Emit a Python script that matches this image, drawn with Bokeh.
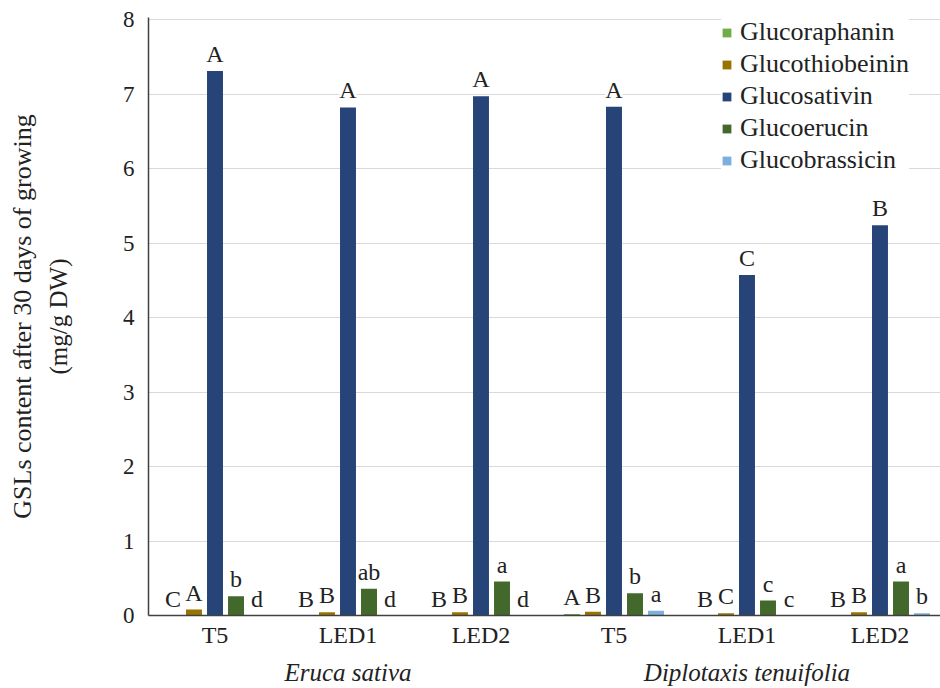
import numpy as np

from bokeh.plotting import figure
from bokeh.models import (Range1d, FixedTicker, ColumnDataSource, LabelSet,
                          Legend, LegendItem, LinearAxis)
from bokeh.embed import file_html
from bokeh.resources import INLINE

# Glucosinolate content (mg/g DW) after 30 days of growing
species = ["Eruca sativa", "Diplotaxis tenuifolia"]
treatments = ["T5", "LED1", "LED2", "T5", "LED1", "LED2"]
compounds = ["Glucoraphanin", "Glucothiobeinin", "Glucosativin",
             "Glucoerucin", "Glucobrassicin"]

glucoraphanin = [0.0, 0.0, 0.0, 0.02, 0.0, 0.0]
glucothiobeinin = [0.08, 0.045, 0.045, 0.05, 0.03, 0.045]
glucosativin = [7.31, 6.82, 6.97, 6.83, 4.57, 5.24]
glucoerucin = [0.26, 0.36, 0.455, 0.30, 0.20, 0.455]
glucobrassicin = [0.0, 0.0, 0.0, 0.065, 0.0, 0.03]

# significance letters per compound
letters_raphanin = ["C", "B", "B", "A", "B", "B"]
letters_thiobeinin = ["A", "B", "B", "B", "C", "B"]
letters_sativin = ["A", "A", "A", "A", "C", "B"]
letters_erucin = ["b", "ab", "a", "b", "c", "a"]
letters_brassicin = ["d", "d", "d", "a", "c", "b"]

colors = ["#70ad47", "#997300", "#264478", "#43682b", "#7cafdd"]
y_ticks = [0, 1, 2, 3, 4, 5, 6, 7, 8]

series = [glucoraphanin, glucothiobeinin, glucosativin, glucoerucin, glucobrassicin]
letters = [letters_raphanin, letters_thiobeinin, letters_sativin,
           letters_erucin, letters_brassicin]

FONT = "Liberation Serif"
TXT = "#222222"

group_x = np.arange(len(treatments), dtype=float)
step = 0.158
bar_w = 0.12

# the value axis runs a hair past 8 so its line overshoots the top gridline
p = figure(width=940, height=688, output_backend="svg", toolbar_location=None,
           x_range=Range1d(-0.5, 5.455), y_range=Range1d(0, 8.027),
           min_border_left=148, min_border_right=0, min_border_top=17,
           min_border_bottom=73)
p.outline_line_color = None
p.background_fill_color = "white"
p.border_fill_color = "white"

p.xgrid.grid_line_color = None
p.ygrid.grid_line_color = "#d9d9d9"
p.ygrid.grid_line_width = 1
p.ygrid.ticker = FixedTicker(ticks=y_ticks)

p.yaxis.ticker = FixedTicker(ticks=y_ticks)
p.xaxis.ticker = FixedTicker(ticks=list(range(len(treatments))))
p.xaxis.major_label_overrides = {i: t for i, t in enumerate(treatments)}

for ax in (p.xaxis[0], p.yaxis[0]):
    ax.axis_line_color = "#404040"
    ax.axis_line_width = 1.5
    ax.major_tick_out = 0
    ax.major_tick_in = 0
    ax.minor_tick_out = 0
    ax.minor_tick_in = 0
    ax.major_label_text_font = FONT
    ax.major_label_text_color = TXT
p.yaxis.major_label_text_font_size = "23px"
p.yaxis.major_label_standoff = 14
p.xaxis.major_label_text_font_size = "24px"
p.xaxis.major_label_standoff = 6

# inner line of the y title: units
p.yaxis.axis_label = "(mg/g DW)"
p.yaxis.axis_label_text_font = FONT
p.yaxis.axis_label_text_font_style = "normal"
p.yaxis.axis_label_text_font_size = "25px"
p.yaxis.axis_label_text_color = TXT
p.yaxis.axis_label_standoff = 48

# outer line of the y title
title_axis = LinearAxis(axis_label="GSLs content after 30 days of growing",
                        ticker=FixedTicker(ticks=[]), axis_line_color=None,
                        major_tick_out=0, major_tick_in=0, minor_tick_out=0,
                        minor_tick_in=0, axis_label_standoff=5,
                        axis_label_text_font=FONT,
                        axis_label_text_font_style="normal",
                        axis_label_text_font_size="26px",
                        axis_label_text_color=TXT)
p.add_layout(title_axis, "left")

# species names under each group of three treatments
species_ticks = [float(group_x[3 * i:3 * i + 3].mean()) for i in range(len(species))]
species_axis = LinearAxis(ticker=FixedTicker(ticks=species_ticks),
                          major_label_overrides={t: s for t, s in zip(species_ticks, species)},
                          axis_line_color=None, major_tick_out=0, major_tick_in=0,
                          minor_tick_out=0, minor_tick_in=0,
                          major_label_standoff=8,
                          major_label_text_font=FONT,
                          major_label_text_font_style="italic",
                          major_label_text_font_size="25px",
                          major_label_text_color=TXT)
p.add_layout(species_axis, "below")

legend_items = []
label_x, label_y, label_t = [], [], []
for k, (vals, name) in enumerate(zip(series, compounds)):
    xs = group_x + (k - 2) * step
    r = p.vbar(x=xs, top=vals, width=bar_w, fill_color=colors[k],
               line_color=None)
    legend_items.append(LegendItem(label=name, renderers=[r]))
    label_x.extend(xs)
    label_y.extend(vals)
    label_t.extend(letters[k])

lab_src = ColumnDataSource(dict(x=label_x, y=label_y, t=label_t))
p.add_layout(LabelSet(x="x", y="y", text="t", source=lab_src, y_offset=9,
                      text_align="center", text_baseline="alphabetic",
                      text_font=FONT, text_font_size="24px", text_color=TXT,
                      background_fill_color="white", background_fill_alpha=1.0))

legend = Legend(items=legend_items, location=(573, 440), orientation="vertical",
                glyph_width=11, glyph_height=11, label_standoff=8, spacing=2,
                padding=0, margin=0, label_height=26,
                label_text_font=FONT, label_text_font_size="26px",
                label_text_color=TXT, border_line_color=None,
                background_fill_color="white", background_fill_alpha=1.0)
p.add_layout(legend, "center")

open("out.html", "w").write(file_html(p, INLINE))
